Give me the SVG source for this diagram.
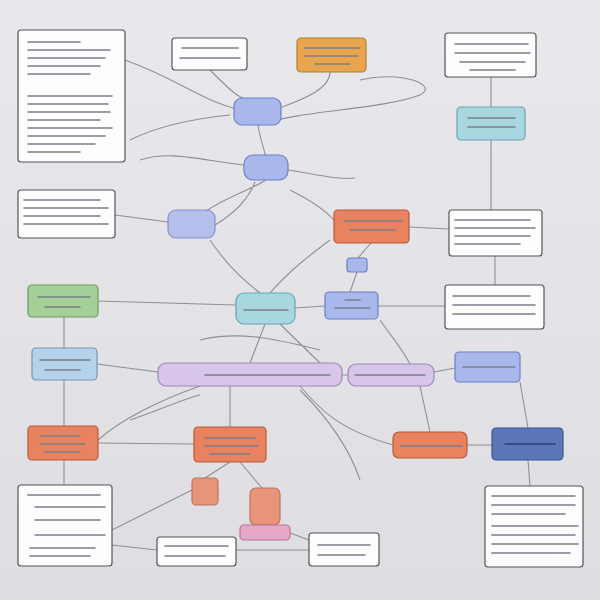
<svg xmlns="http://www.w3.org/2000/svg" width="600" height="600" viewBox="0 0 600 600">
<style>
.n{stroke-width:1.2}
.w{fill:#fdfdfd;stroke:#555}
.o{fill:#e9825e;stroke:#b35a3c}
.y{fill:#e9a54e;stroke:#b57a2c}
.b{fill:#a9b8ec;stroke:#6d7fc4}
.t{fill:#a9d7e0;stroke:#6ba3b0}
.g{fill:#a4cf97;stroke:#6d9a60}
.lb{fill:#b4d2ea;stroke:#7396b6}
.lv{fill:#d7c5ea;stroke:#9d87bb}
.db{fill:#5b77b9;stroke:#3b558f}
.pk{fill:#e7a7c7;stroke:#b87597}
.tx{stroke:#7a7f8c;stroke-width:1.6;stroke-linecap:round}
.c{stroke:#8d9096;stroke-width:1.1;fill:none}
</style>
<defs><linearGradient id="bg" x1="0" y1="0" x2="0" y2="1"><stop offset="0" stop-color="#e9e9ed"/><stop offset="1" stop-color="#dedee2"/></linearGradient></defs>
<rect width="600" height="600" fill="url(#bg)"/>
<g id="connectors">
<path class="c" d="M125 60 C180 80 200 100 240 110 M210 70 C230 90 240 100 250 100 M330 72 C330 90 300 100 280 108 M258 125 C260 140 265 150 265 155 M260 125 C300 110 380 110 420 95 C440 85 400 70 360 80 M230 115 C180 120 150 130 130 140 M244 165 C200 160 170 150 140 160 M266 180 C250 190 220 200 205 212 M288 170 C320 175 340 180 355 178 M491 77 L491 107 M491 140 L491 210 M115 215 L168 222 M215 225 C240 210 250 195 255 182 M290 190 C310 200 325 210 334 220 M409 227 L449 229 M371 243 L358 258 M357 272 L350 292 M495 256 L495 285 M98 301 L236 305 M295 308 L325 306 M270 293 C290 270 310 255 330 240 M210 240 C230 270 250 285 260 293 M378 306 L445 306 M64 317 L64 348 M97 364 L158 372 M265 324 L250 363 M280 324 L320 363 M342 375 L348 375 M434 372 L455 368 M380 320 C390 335 400 345 410 364 M64 380 L64 426 M200 386 C160 400 120 420 98 440 M230 386 L230 427 M300 386 C320 410 340 430 393 445 M420 386 L430 432 M520 382 L528 428 M98 443 L194 444 M230 462 L205 478 M240 462 L262 488 M300 390 C330 420 350 450 360 480 M64 460 L64 485 M112 530 L192 490 M112 545 L157 550 M236 550 L309 550 M290 533 L309 540 M528 460 L530 486 M467 445 L492 445 M320 350 C280 340 240 330 200 340 M130 420 C160 410 180 400 200 395"/>
</g>
<g id="n1"><rect class="n w" x="18" y="30" width="107" height="132" rx="3"/><path class="tx" d="M28 42H80M28 50H110M28 58H105M28 66H100M28 74H90M28 96H112M28 104H108M28 112H110M28 120H100M28 128H112M28 136H105M28 144H95M28 152H80"/></g>
<g id="n2"><rect class="n w" x="172" y="38" width="75" height="32" rx="3"/><path class="tx" d="M182 48H238M180 58H240"/></g>
<g id="n3"><rect class="n y" x="297" y="38" width="69" height="34" rx="4"/><path class="tx" d="M305 48H360M305 56H358M315 64H350"/></g>
<g id="n4"><rect class="n w" x="445" y="33" width="91" height="44" rx="3"/><path class="tx" d="M455 44H528M455 53H530M460 62H525M470 70H515"/></g>
<g id="n5"><rect class="n b" x="234" y="98" width="47" height="27" rx="8"/></g>
<g id="n6"><rect class="n t" x="457" y="107" width="68" height="33" rx="4"/><path class="tx" d="M468 118H515M468 127H515"/></g>
<g id="n7"><rect class="n b" x="244" y="155" width="44" height="25" rx="9"/></g>
<g id="n8"><rect class="n w" x="18" y="190" width="97" height="48" rx="3"/><path class="tx" d="M24 200H100M24 208H108M24 216H100M24 224H108"/></g>
<g id="n9"><rect class="n b" x="168" y="210" width="47" height="28" rx="8" opacity="0.8"/></g>
<g id="n10"><rect class="n o" x="334" y="210" width="75" height="33" rx="4"/><path class="tx" d="M344 221H402M350 230H395"/></g>
<g id="n11"><rect class="n w" x="449" y="210" width="93" height="46" rx="3"/><path class="tx" d="M455 220H530M455 228H535M455 236H530M455 244H520"/></g>
<g id="n12"><rect class="n g" x="28" y="285" width="70" height="32" rx="4"/><path class="tx" d="M38 297H90M45 307H80"/></g>
<g id="n13"><rect class="n b" x="347" y="258" width="20" height="14" rx="3"/></g>
<g id="n14"><rect class="n t" x="236" y="293" width="59" height="31" rx="8"/><path class="tx" d="M244 310H288"/></g>
<g id="n15"><rect class="n b" x="325" y="292" width="53" height="27" rx="4"/><path class="tx" d="M345 300H360M335 308H370"/></g>
<g id="n16"><rect class="n w" x="445" y="285" width="99" height="44" rx="3"/><path class="tx" d="M453 296H530M453 305H535M453 314H535"/></g>
<g id="n17"><rect class="n lb" x="32" y="348" width="65" height="32" rx="4"/><path class="tx" d="M40 360H90M45 370H80"/></g>
<g id="n18"><rect class="n lv" x="158" y="363" width="184" height="23" rx="8"/><path class="tx" d="M205 375H330"/></g>
<g id="n19"><rect class="n lv" x="348" y="364" width="86" height="22" rx="8"/><path class="tx" d="M355 375H425"/></g>
<g id="n20"><rect class="n b" x="455" y="352" width="65" height="30" rx="4"/><path class="tx" d="M463 367H515"/></g>
<g id="n21"><rect class="n o" x="28" y="426" width="70" height="34" rx="4"/><path class="tx" d="M40 436H80M40 444H85M45 452H80"/></g>
<g id="n22"><rect class="n o" x="194" y="427" width="72" height="35" rx="4"/><path class="tx" d="M205 438H255M205 446H258M210 454H250"/></g>
<g id="n23"><rect class="n o" x="393" y="432" width="74" height="26" rx="6"/><path class="tx" d="M400 446H462"/></g>
<g id="n24"><rect class="n db" x="492" y="428" width="71" height="32" rx="4"/><path class="tx" d="M505 444H555" style="stroke:#2f3f6a"/></g>
<g id="n25"><rect class="n w" x="18" y="485" width="94" height="81" rx="3"/><path class="tx" d="M28 495H100M35 507H105M35 520H100M35 535H105M30 548H95M30 556H90"/></g>
<g id="n26"><rect class="n o" x="192" y="478" width="26" height="27" rx="4" opacity="0.8"/></g>
<g id="n27"><rect class="n o" x="250" y="488" width="30" height="37" rx="6" opacity="0.8"/></g>
<g id="n28"><rect class="n pk" x="240" y="525" width="50" height="15" rx="4"/></g>
<g id="n29"><rect class="n w" x="157" y="537" width="79" height="29" rx="3"/><path class="tx" d="M165 546H228M165 556H225"/></g>
<g id="n30"><rect class="n w" x="309" y="533" width="70" height="33" rx="3"/><path class="tx" d="M318 545H370M318 555H365"/></g>
<g id="n31"><rect class="n w" x="485" y="486" width="98" height="81" rx="3"/><path class="tx" d="M492 496H575M492 505H575M492 514H565M492 526H578M492 535H575M492 544H578M492 553H570"/></g>
</svg>
